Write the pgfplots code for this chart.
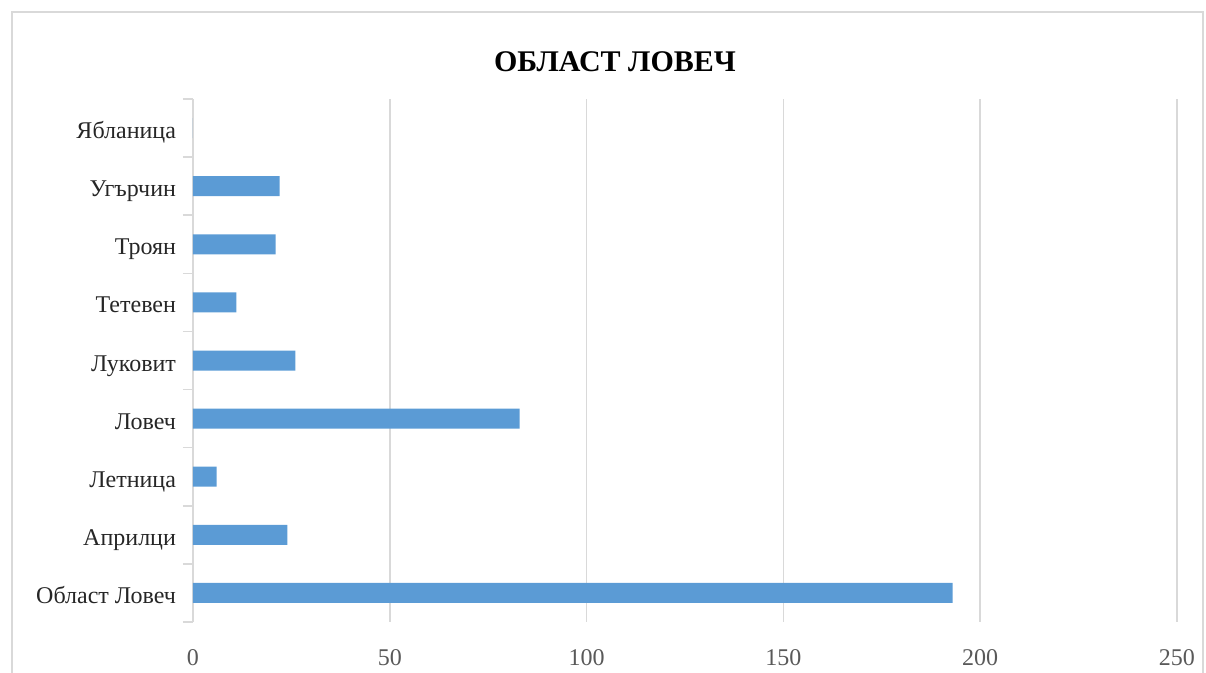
\documentclass[border=0pt]{standalone}
\usepackage{fontspec}
\setmainfont{Liberation Serif}
\usepackage{pgfplots}
\pgfplotsset{compat=1.18}
\definecolor{barblue}{HTML}{5B9BD5}
\definecolor{gridgray}{HTML}{D9D9D9}
\definecolor{ticktext}{HTML}{595959}
\begin{document}
\begin{tikzpicture}
\useasboundingbox (-96.5pt,-25.5pt) rectangle (506.5pt,311pt);
% chart area border (cropped at the bottom)
\draw[gridgray, line width=0.6pt] (-90.5pt,-25.5pt) -- (-90.5pt,305pt) -- (505pt,305pt) -- (505pt,-25.5pt);
\begin{axis}[
  scale only axis,
  width=492pt, height=261.5pt,
  xbar, bar width=10pt,
  xmin=0, xmax=250,
  ymin=-0.5, ymax=8.5,
  xtick={0,50,...,250},
  ytick={0,...,8},
  yticklabels={Област Ловеч,Априлци,Летница,Ловеч,Луковит,Тетевен,Троян,Угърчин,Ябланица},
  minor ytick={-0.5,0.5,...,8.5},
  major tick length=0pt,
  minor tick length=5pt,
  tick align=outside,
  minor tick style={gridgray, line width=0.75pt},
  axis x line*=bottom,
  axis y line*=left,
  x axis line style={draw=none},
  y axis line style={draw=gridgray, line width=0.75pt, -},
  xmajorgrids,
  grid style={gridgray, line width=0.75pt},
  tick label style={font=\fontsize{12}{14}\selectfont},
  xticklabel style={text=ticktext, yshift=-10pt},
  yticklabel style={text=black!85, xshift=-5pt, yshift=-2.5pt, text height=8pt, text depth=2.5pt},
  /pgf/number format/assume math mode=true,
  clip=false,
]
\addplot[fill=barblue, draw=none] coordinates {
  (193,0) (24,1) (6,2) (83,3) (26,4) (11,5) (21,6) (22,7) (0,8)
};
\end{axis}
\node[font=\fontsize{15}{18}\selectfont\bfseries] at (211pt,280pt) {ОБЛАСТ ЛОВЕЧ};
\end{tikzpicture}
\end{document}
